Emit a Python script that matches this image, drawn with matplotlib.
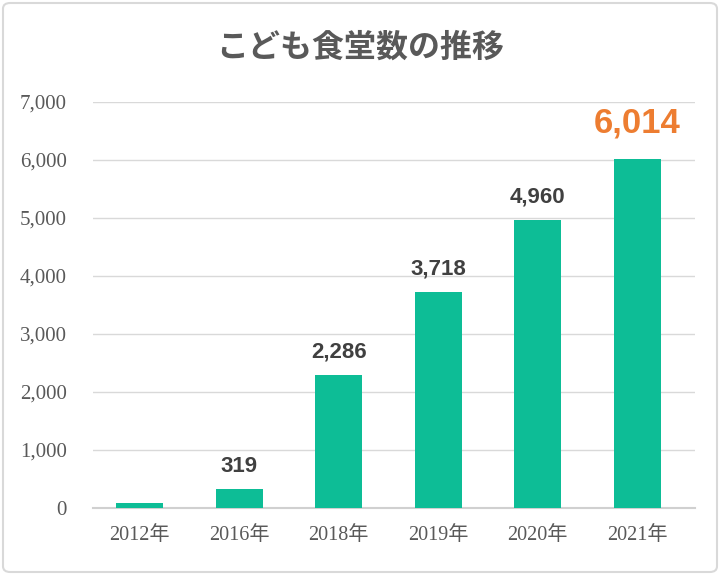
import matplotlib.pyplot as plt
from matplotlib.patches import FancyBboxPatch

# データ
years = ['2012年', '2016年', '2018年', '2019年', '2020年', '2021年']
counts = [90, 319, 2286, 3718, 4960, 6014]
y_ticks = [0, 1000, 2000, 3000, 4000, 5000, 6000, 7000]

bar_color = '#0dbd96'
text_gray = '#595959'
tick_fonts = ['Liberation Serif', 'Noto Sans CJK JP']

fig = plt.figure(figsize=(7.2, 5.75), dpi=100)
ax = fig.add_axes([93 / 720, 1 - 508 / 575, 602 / 720, 406 / 575])

x = range(len(years))
ax.bar(x, counts, width=0.47, color=bar_color, zorder=3)

ax.set_ylim(0, 7000)
ax.set_xlim(-0.47, 5.58)
ax.set_yticks(y_ticks)
ax.set_yticklabels([f'{v:,}' for v in y_ticks], family=tick_fonts, fontsize=15, color=text_gray)
ax.set_xticks(list(x))
ax.set_xticklabels(years, family=tick_fonts, fontsize=14.5, color=text_gray)
ax.tick_params(length=0)
ax.tick_params(axis='y', pad=19)
ax.tick_params(axis='x', pad=13)

ax.grid(axis='y', color='#d9d9d9', linewidth=1, zorder=0)
for s in ['top', 'right', 'left']:
    ax.spines[s].set_visible(False)
ax.spines['bottom'].set_color('#d0d0d0')
ax.spines['bottom'].set_linewidth(1.5)

# 数値ラベル (2012年は表示なし)
for i, v in enumerate(counts):
    if i == 0:
        continue
    if i == len(counts) - 1:
        ax.annotate(f'{v:,}', (i, v), xytext=(0, 14), textcoords='offset points',
                    ha='center', va='bottom', fontsize=25, fontweight='bold',
                    color='#ed7d31', family='Liberation Sans')
    else:
        ax.annotate(f'{v:,}', (i, v), xytext=(0, 9), textcoords='offset points',
                    ha='center', va='bottom', fontsize=16, fontweight='bold',
                    color='#404040', family='Liberation Sans')

fig.text(0.5, 1 - 48 / 575, 'こども食堂数の推移', ha='center', va='center',
         fontsize=23, fontweight='bold', color=text_gray, family='Noto Sans CJK JP')

# 外枠
border = FancyBboxPatch((3 / 720, 3 / 575), 714 / 720, 569 / 575,
                        boxstyle='round,pad=0,rounding_size=0.01',
                        transform=fig.transFigure, fill=False,
                        edgecolor='#d9d9d9', linewidth=1.5)
fig.patches.append(border)

fig.savefig('out.png', dpi=100)
